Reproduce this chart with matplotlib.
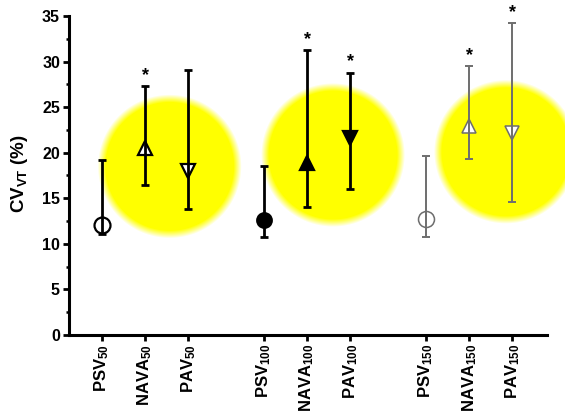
import numpy as np
import matplotlib
matplotlib.use("Agg")
import matplotlib.pyplot as plt
from matplotlib.ticker import MultipleLocator

plt.rcParams["font.family"] = "Liberation Sans"
plt.rcParams["font.weight"] = "bold"
plt.rcParams["mathtext.fontset"] = "custom"
plt.rcParams["mathtext.rm"] = "Liberation Sans:bold"
plt.rcParams["mathtext.bf"] = "Liberation Sans:bold"
plt.rcParams["mathtext.it"] = "Liberation Sans:bold"
plt.rcParams["mathtext.default"] = "bf"

# ── Data ──────────────────────────────────────────────────────────────────────

MODES  = ["PSV", "NAVA", "PAV"]
LEVELS = ["50", "100", "150"]

# median CV of tidal volume (%) and its range, order: level-major, mode-minor
CV_MID  = [12.1, 20.5, 18.0, 12.6, 18.9, 21.6, 12.7, 22.9, 22.2]
CV_LOW  = [11.1, 16.5, 13.8, 10.8, 14.0, 16.0, 10.7, 19.3, 14.6]
CV_HIGH = [19.2, 27.3, 29.1, 18.5, 31.3, 28.8, 19.6, 29.5, 34.2]
SIGNIF  = [False, True, False, False, True, True, False, True, True]

# ── Style ─────────────────────────────────────────────────────────────────────

W_PX, H_PX = 565, 411
GROUP_GAP  = 0.75
BLACK      = "#000000"
GREY       = "#6e6e6e"
GLOW       = (1.0, 1.0, 0.0)

# highlight discs (x in category units, y in CV %)
GLOW_X      = [1.57, 5.35, 9.35]
GLOW_Y      = [18.5, 19.75, 20.1]
GLOW_R_PX   = 68
GLOW_FADE   = 8

MARKERS = {"PSV": "o", "NAVA": "^", "PAV": "v"}
LEVEL_STYLE = {
    "50":  dict(color=BLACK, face="white", lw=2.0, ms_o=11.5, ms_t=10),
    "100": dict(color=BLACK, face=BLACK,   lw=2.0, ms_o=10.5, ms_t=10),
    "150": dict(color=GREY,  face="white", lw=1.4, ms_o=11.5, ms_t=10),
}

# ── Figure ────────────────────────────────────────────────────────────────────

fig = plt.figure(figsize=(W_PX / 100, H_PX / 100), dpi=100)
fig.patch.set_facecolor("white")
ax = fig.add_axes([69 / W_PX, (H_PX - 335) / H_PX,
                   (547 - 69) / W_PX, (335 - 16) / H_PX])
ax.set_zorder(2)
ax.patch.set_visible(False)

xs, labels = [], []
for g, lev in enumerate(LEVELS):
    for m, mode in enumerate(MODES):
        xs.append(g * (len(MODES) + GROUP_GAP) + m)
        labels.append(f"{mode}$_{{{lev}}}$")

i = 0
for lev in LEVELS:
    st = LEVEL_STYLE[lev]
    for mode in MODES:
        x, mid, lo, hi = xs[i], CV_MID[i], CV_LOW[i], CV_HIGH[i]
        ms = st["ms_o"] if mode == "PSV" else st["ms_t"]
        ax.plot([x], [mid], marker=MARKERS[mode], ms=ms, mfc=st["face"],
                mec=st["color"], mew=st["lw"] * 0.8, ls="none", zorder=3)
        ax.errorbar([x], [mid], yerr=[[mid - lo], [hi - mid]], fmt="none",
                    ecolor=st["color"], elinewidth=st["lw"], capsize=3.2,
                    capthick=st["lw"], zorder=4)
        if SIGNIF[i]:
            ax.annotate("*", (x, hi), xytext=(0, 1.5), textcoords="offset points",
                        ha="center", va="bottom", fontsize=13,
                        fontweight="bold", color=BLACK, annotation_clip=False)
        i += 1

ax.set_xlim(-0.76, 10.3)
ax.set_ylim(0, 35)
ax.set_xticks(xs)
ax.set_xticklabels(labels, rotation=90, fontsize=12, fontweight="bold")
ax.yaxis.set_major_locator(MultipleLocator(5))
ax.yaxis.set_minor_locator(MultipleLocator(2.5))
for lab in ax.get_yticklabels():
    lab.set_fontsize(11.5)
    lab.set_fontweight("bold")

for side in ("top", "right"):
    ax.spines[side].set_visible(False)
for side in ("left", "bottom"):
    ax.spines[side].set_linewidth(2.2)
ax.tick_params(axis="both", which="major", direction="out", length=4.5,
               width=2.0, pad=2)
ax.tick_params(axis="y", which="minor", direction="out", length=2.5, width=1.8)
ax.tick_params(axis="x", which="minor", length=0)

fig.text(20 / W_PX, 1 - 174 / H_PX, "CV$_{VT}$ (%)", rotation=90,
         ha="center", va="center", fontsize=13.5, fontweight="bold")

# ── Soft yellow highlight discs behind the axes ───────────────────────────────

yy, xx = np.mgrid[0:H_PX, 0:W_PX] + 0.5
alpha = np.zeros((H_PX, W_PX))
for gx, gy in zip(GLOW_X, GLOW_Y):
    px, py = ax.transData.transform((gx, gy))
    d = np.hypot(xx - px, yy - py)
    alpha = np.maximum(alpha, np.clip((GLOW_R_PX - d) / GLOW_FADE + 0.5, 0, 1))
rgba = np.zeros((H_PX, W_PX, 4))
rgba[..., 0], rgba[..., 1], rgba[..., 2] = GLOW
rgba[..., 3] = alpha
fig.figimage(rgba, 0, 0, origin="lower", zorder=0)

fig.savefig("out.png", dpi=100, facecolor="white")
